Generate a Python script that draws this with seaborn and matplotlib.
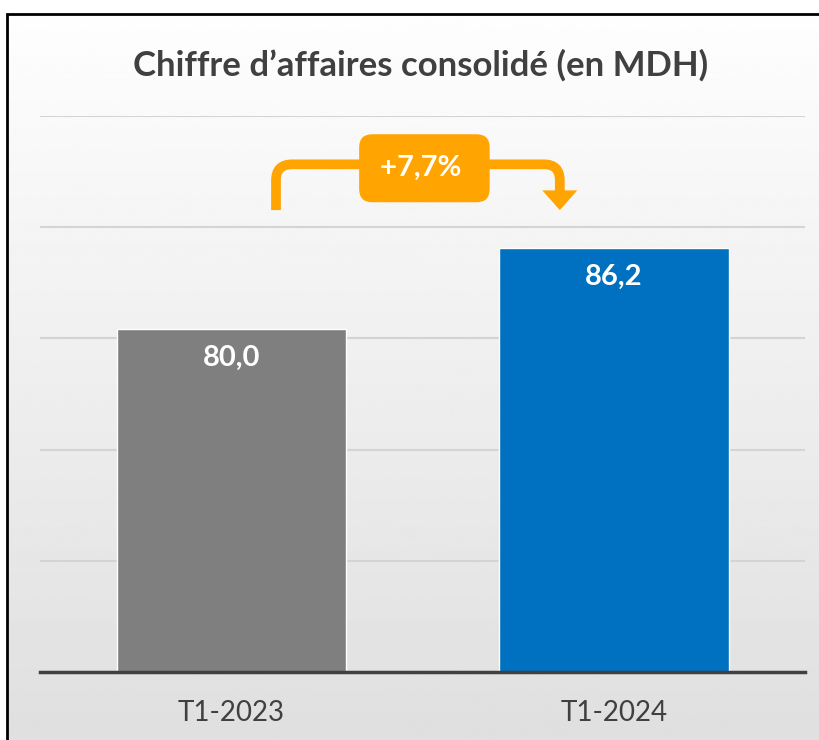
import numpy as np
import matplotlib
matplotlib.use("Agg")
import matplotlib.pyplot as plt
from matplotlib.patches import Rectangle, FancyArrowPatch
import seaborn as sns

# Chart data
periods = ["T1-2023", "T1-2024"]
values = [80.0, 86.2]
bar_colors = ["#7F7F7F", "#0070C0"]
growth_label = "+7,7%"
title = "Chiffre d\u2019affaires consolidé (en MDH)"

# axis range (the original chart does not start at zero)
y_min, y_max = 53.74, 96.3

orange = "#FFA400"
dark = "#404040"

sns.set_style("white")
plt.rcParams["font.family"] = ["Lato", "DejaVu Sans"]

fig = plt.figure(figsize=(8.2, 7.4), dpi=100)

# gradient background inside the frame
bg = fig.add_axes([7 / 820, 0, 1 - 7 / 820, 1 - 14 / 740], zorder=0)
grad = np.linspace(0.995, 0.875, 256).reshape(-1, 1)
bg.imshow(grad, cmap="gray", vmin=0, vmax=1, aspect="auto", extent=[0, 1, 0, 1])
bg.axis("off")

# black frame (runs off the right and bottom edges)
fig.patches.append(Rectangle((7 / 820, -0.05), 1.1, 1 - 14 / 740 + 0.05,
                             transform=fig.transFigure, fill=False,
                             ec="black", lw=2, zorder=10))

ax = fig.add_axes([40 / 820, 68 / 740, 765 / 820, 556 / 740], zorder=1)
ax.set_facecolor("none")

sns.barplot(x=periods, y=values, hue=periods, palette=bar_colors, legend=False,
            width=0.6, saturation=1, ax=ax, zorder=2)

ax.set_ylim(y_min, y_max)
ax.set_yticks(np.linspace(y_min, y_max, 6))
ax.yaxis.grid(True, color="#d4d4d4", lw=1.5)
ax.set_axisbelow(True)
ax.tick_params(axis="y", length=0, labelleft=False)
ax.tick_params(axis="x", length=0, pad=20, labelsize=20, labelcolor=dark)
ax.set_xlabel("")
ax.set_ylabel("")
for side in ["top", "right", "left"]:
    ax.spines[side].set_visible(False)
ax.spines["bottom"].set_color(dark)
ax.spines["bottom"].set_linewidth(2.5)

# value labels inside the bars
for i, v in enumerate(values):
    ax.annotate(f"{v:.1f}".replace(".", ","), (i, v), xytext=(0, -21),
                textcoords="offset points", ha="center", va="center",
                color="white", fontsize=21, fontweight="bold", zorder=5)

# growth arrow between the bars
x_left, x_right = 0.117, 1 - 0.141
y_low = max(values) + 2.9
y_high = max(values) + 6.4
x_mid = 0.5

left_leg = FancyArrowPatch((x_left, y_low), (x_mid, y_high),
                           connectionstyle="angle,angleA=90,angleB=0,rad=16",
                           arrowstyle="-", color=orange, lw=7,
                           shrinkA=0, shrinkB=0, capstyle="butt", zorder=4)
right_leg = FancyArrowPatch((x_mid, y_high), (x_right, y_low),
                            connectionstyle="angle,angleA=0,angleB=90,rad=16",
                            arrowstyle="-|>,head_length=0.45,head_width=0.4",
                            mutation_scale=12, color=orange, lw=7,
                            shrinkA=0, shrinkB=0, joinstyle="miter", zorder=4)
ax.add_patch(left_leg)
ax.add_patch(right_leg)

ax.text(x_mid + 0.005, y_high - 0.3, f"{growth_label} ", ha="center", va="center",
        color="white", fontsize=21, fontweight="bold", zorder=6,
        bbox=dict(boxstyle="round,pad=0.72,rounding_size=0.45", fc=orange, ec="none"))

fig.text(421 / 820, 1 - 65 / 740, title, ha="center", va="center",
         fontsize=25, fontweight="bold", color=dark)

fig.savefig("out.png", dpi=100)
